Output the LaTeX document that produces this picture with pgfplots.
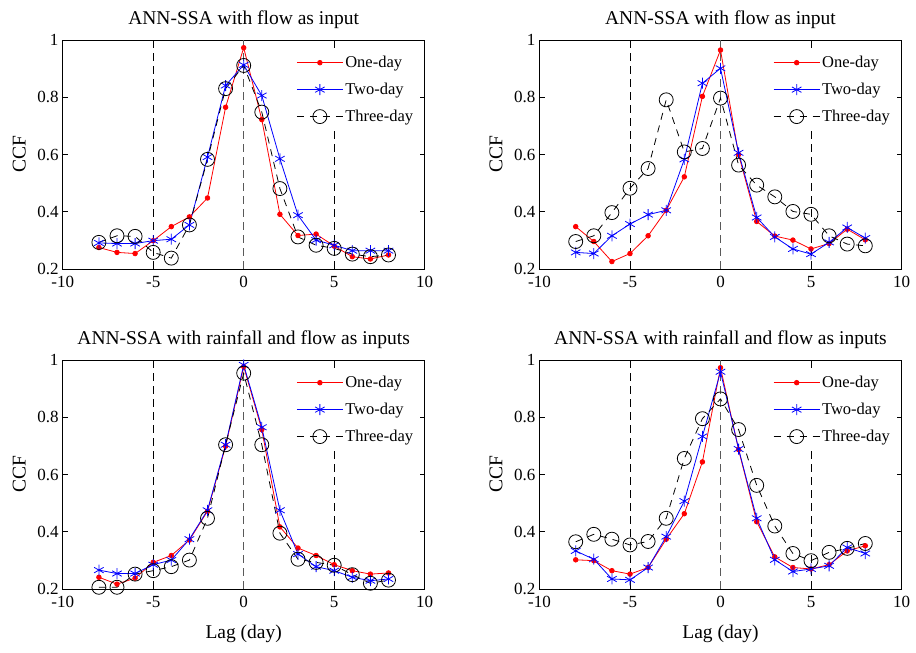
\documentclass[border=0pt]{standalone}
\usepackage{fontspec}
\setmainfont{Liberation Serif}
\usepackage{pgfplots}
\pgfplotsset{compat=1.18}

\pgfplotsset{
 ccf/.style={
  scale only axis, width=362pt, height=229pt,
  xmin=-10,xmax=10,ymin=0.2,ymax=1,
  xtick={-10,-5,0,5,10}, ytick={0.2,0.4,0.6,0.8,1},
  tick align=inside, xtick pos=both, ytick pos=both,
  major tick length=5pt,
  axis line style={line width=0.9pt},
  every tick/.style={black, line width=0.8pt},
  /pgf/number format/assume math mode=true,
  ticklabel style={font=\fontsize{17}{17}\selectfont, inner sep=1pt},
  yticklabel style={/pgf/number format/fixed, /pgf/number format/precision=1, xshift=-3pt},
  xticklabel style={yshift=-6pt},
  title style={font=\fontsize{19.5}{20}\selectfont, yshift=2pt},
  ylabel={CCF}, ylabel style={font=\fontsize{19.5}{20}\selectfont, yshift=7pt},
  legend style={at={(0.985,0.965)},anchor=north east,draw=none,fill=white,
     font=\fontsize{16.5}{16.5}\selectfont, row sep=10pt, inner xsep=4pt, inner ysep=6pt},
  legend cell align=left,
  legend image code/.code={\draw[mark repeat=2,mark phase=2] plot coordinates {(0pt,0pt) (23pt,0pt) (46pt,0pt)};},
 },
 one/.style={red, line width=0.8pt, mark=*, mark size=2.3pt, mark options={solid}},
 two/.style={blue, line width=0.8pt, mark=asterisk, mark size=5.5pt, mark options={solid, line width=0.8pt}},
 three/.style={black, line width=0.8pt, dash pattern=on 7pt off 6pt, mark=o, mark size=7pt, mark options={solid, line width=0.8pt}},
 vl/.style={black, line width=0.8pt, dash pattern=on 8pt off 5pt, forget plot},
 vl0/.style={black!65, line width=1.2pt, dash pattern=on 8pt off 5pt, forget plot},
}

\newcommand{\vlines}{%
  \addplot[vl] coordinates {(-5,0.2) (-5,1)};
  \addplot[vl0] coordinates {(0,0.2) (0,1)};
  \addplot[vl] coordinates {(5,0.2) (5,1)};
}

\begin{document}
\begin{tikzpicture}
\useasboundingbox (0,0) rectangle (916pt,653pt);

% Top-left
\begin{axis}[ccf, at={(62.7pt,384pt)}, anchor=south west, title={ANN-SSA with flow as input}]
\vlines
\addplot[one] coordinates {(-8,0.275) (-7,0.258) (-6,0.254) (-5,0.299) (-4,0.348) (-3,0.382) (-2,0.448) (-1,0.765) (0,0.973) (1,0.722) (2,0.391) (3,0.317) (4,0.322) (5,0.280) (6,0.243) (7,0.235) (8,0.249)};
\addplot[two] coordinates {(-8,0.291) (-7,0.289) (-6,0.289) (-5,0.299) (-4,0.304) (-3,0.354) (-2,0.591) (-1,0.841) (0,0.913) (1,0.806) (2,0.585) (3,0.388) (4,0.301) (5,0.283) (6,0.264) (7,0.264) (8,0.264)};
\addplot[three] coordinates {(-8,0.293) (-7,0.316) (-6,0.314) (-5,0.258) (-4,0.238) (-3,0.354) (-2,0.583) (-1,0.830) (0,0.911) (1,0.748) (2,0.481) (3,0.312) (4,0.283) (5,0.272) (6,0.252) (7,0.243) (8,0.249)};
\legend{One-day,Two-day,Three-day}
\end{axis}

% Top-right
\begin{axis}[ccf, at={(539.5pt,384pt)}, anchor=south west, title={ANN-SSA with flow as input}]
\vlines
\addplot[one] coordinates {(-8,0.348) (-7,0.296) (-6,0.226) (-5,0.254) (-4,0.316) (-3,0.405) (-2,0.522) (-1,0.803) (0,0.965) (1,0.600) (2,0.366) (3,0.315) (4,0.301) (5,0.270) (6,0.289) (7,0.339) (8,0.302)};
\addplot[two] coordinates {(-8,0.258) (-7,0.254) (-6,0.316) (-5,0.357) (-4,0.390) (-3,0.405) (-2,0.583) (-1,0.849) (0,0.901) (1,0.606) (2,0.380) (3,0.312) (4,0.270) (5,0.252) (6,0.293) (7,0.345) (8,0.308)};
\addplot[three] coordinates {(-8,0.296) (-7,0.316) (-6,0.397) (-5,0.482) (-4,0.551) (-3,0.791) (-2,0.609) (-1,0.621) (0,0.797) (1,0.563) (2,0.493) (3,0.452) (4,0.401) (5,0.391) (6,0.316) (7,0.287) (8,0.281)};
\legend{One-day,Two-day,Three-day}
\end{axis}

% Bottom-left
\begin{axis}[ccf, at={(62.7pt,64pt)}, anchor=south west, title={ANN-SSA with rainfall and flow as inputs}, xlabel={Lag (day)}, xlabel style={font=\fontsize{19.5}{20}\selectfont, yshift=-13pt}]
\vlines
\addplot[one] coordinates {(-8,0.241) (-7,0.217) (-6,0.238) (-5,0.293) (-4,0.317) (-3,0.371) (-2,0.472) (-1,0.699) (0,0.977) (1,0.757) (2,0.417) (3,0.343) (4,0.317) (5,0.285) (6,0.264) (7,0.252) (8,0.256)};
\addplot[two] coordinates {(-8,0.266) (-7,0.254) (-6,0.254) (-5,0.285) (-4,0.301) (-3,0.374) (-2,0.475) (-1,0.704) (0,0.983) (1,0.765) (2,0.475) (3,0.322) (4,0.278) (5,0.264) (6,0.241) (7,0.229) (8,0.235)};
\addplot[three] coordinates {(-8,0.206) (-7,0.206) (-6,0.252) (-5,0.264) (-4,0.278) (-3,0.301) (-2,0.447) (-1,0.704) (0,0.954) (1,0.704) (2,0.395) (3,0.304) (4,0.293) (5,0.283) (6,0.250) (7,0.220) (8,0.231)};
\legend{One-day,Two-day,Three-day}
\end{axis}

% Bottom-right
\begin{axis}[ccf, at={(539.5pt,64pt)}, anchor=south west, title={ANN-SSA with rainfall and flow as inputs}, xlabel={Lag (day)}, xlabel style={font=\fontsize{19.5}{20}\selectfont, yshift=-13pt}]
\vlines
\addplot[one] coordinates {(-8,0.302) (-7,0.299) (-6,0.264) (-5,0.252) (-4,0.275) (-3,0.374) (-2,0.463) (-1,0.644) (0,0.973) (1,0.687) (2,0.435) (3,0.312) (4,0.275) (5,0.270) (6,0.285) (7,0.333) (8,0.351)};
\addplot[two] coordinates {(-8,0.333) (-7,0.304) (-6,0.235) (-5,0.232) (-4,0.275) (-3,0.383) (-2,0.507) (-1,0.733) (0,0.959) (1,0.689) (2,0.447) (3,0.302) (4,0.261) (5,0.270) (6,0.281) (7,0.345) (8,0.324)};
\addplot[three] coordinates {(-8,0.365) (-7,0.391) (-6,0.374) (-5,0.354) (-4,0.366) (-3,0.447) (-2,0.656) (-1,0.795) (0,0.864) (1,0.757) (2,0.562) (3,0.420) (4,0.324) (5,0.299) (6,0.328) (7,0.342) (8,0.359)};
\legend{One-day,Two-day,Three-day}
\end{axis}
\end{tikzpicture}
\end{document}
